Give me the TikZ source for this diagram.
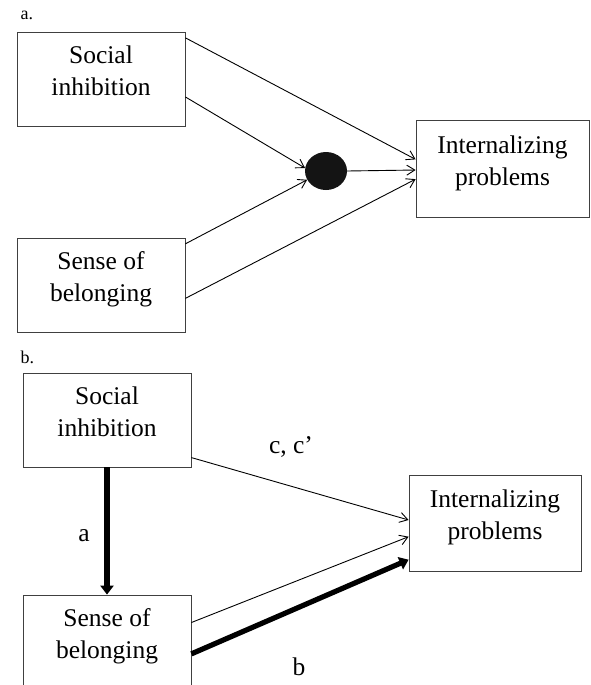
\documentclass[tikz,border=0pt]{standalone}
\usepackage{fontspec}
\setmainfont{Liberation Serif}
\usetikzlibrary{arrows.meta,shapes.geometric}
\tikzset{
  box/.style={draw=black!75,line width=0.8pt,minimum width=168pt,minimum height=94pt,
    inner sep=0pt,align=center,text depth=16.5pt,font=\fontsize{25.5}{32}\selectfont},
  arr/.style={-{Straight Barb[length=8pt,width=10pt]},line width=0.9pt},
  fat/.style={-{Triangle[length=9pt,width=13pt]},line width=5.2pt},
  lbl/.style={anchor=base,font=\fontsize{25.5}{32}\selectfont},
  panel/.style={anchor=base west,font=\fontsize{18}{20}\selectfont}
}
\begin{document}
\begin{tikzpicture}[x=1pt,y=-1pt]
  \useasboundingbox (0,0) rectangle (590,685);
  % a.
  \node[panel] (pa) at (17,20) {a.};
  \node[box] (sia) at (101,79) {Social\\inhibition};
  \node[box] (sba) at (101,285) {Sense of\\belonging};
  \node[box,minimum width=173pt,minimum height=97pt] (ipa) at (502.5,168.5) {Internalizing\\problems};
  \node[ellipse,fill=black!92,minimum width=42pt,minimum height=38pt,inner sep=0pt] (dot) at (326,171) {};
  \draw[arr] (sia.26) -- (ipa.174.4);
  \draw[arr] (sia.-12) -- (dot.172);
  \draw[arr] (sba.26.6) -- (dot.205);
  \draw[arr] (sba.-9.5) -- (ipa.187.6);
  \draw[arr] (dot.east) -- (ipa.181.6);
  % b.
  \node[panel] (pb) at (17,363) {b.};
  \node[box] (sib) at (107,420) {Social\\inhibition};
  \node[box] (sbb) at (107,642) {Sense of\\belonging};
  \node[box,minimum width=172pt,minimum height=96pt] (ipb) at (495,523) {Internalizing\\problems};
  \draw[arr] (sib.-24.3) -- (ipb.178);
  \draw[arr] (sbb.13.4) -- (ipb.189.2);
  \draw[fat] (sbb.-8.8) -- (ipb.203.3);
  \draw[fat] (sib.south) -- (sbb.north);
  \node[lbl] (la) at (84,541) {a};
  \node[lbl] (lb) at (299,675) {b};
  \node[lbl] (lc) at (291,453) {c, c’};
\end{tikzpicture}
\end{document}
